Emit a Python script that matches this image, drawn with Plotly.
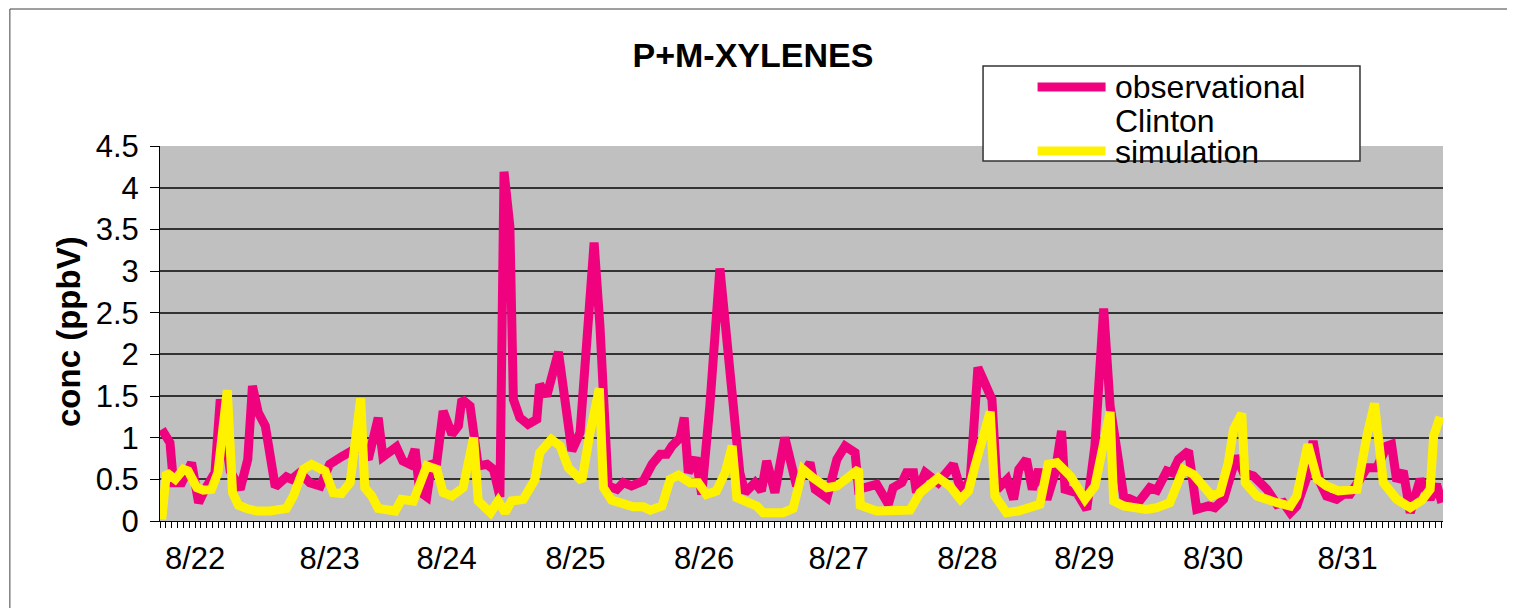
import plotly.graph_objects as go

# hours since start of record (one category per tick on the axis)
obs_hour = [0.3, 1.7, 2.3, 3.7, 5.4, 6.6, 7.7, 9.4, 10.3, 12.0, 13.7, 15.0, 15.8, 16.8, 18.0, 19.1, 19.7,
            21.6, 22.5, 23.9, 25.6, 27.4, 29.0, 31.0, 32.8, 34.2, 35.6, 37.3, 38.1, 40.4, 41.5, 42.7,
            43.6, 44.4, 45.6, 46.4, 47.3, 48.4, 49.9, 51.0, 51.6, 53.0, 54.4, 55.9, 57.0, 58.1, 58.8,
            59.8, 60.4, 61.5, 62.9, 64.4, 64.9, 66.1, 68.1, 69.2, 70.4, 71.8, 74.2, 75.2, 76.1, 76.6,
            78.1, 79.2, 80.6, 82.6, 84.1, 85.5, 86.6, 87.5, 88.9, 89.6, 90.3, 91.6, 92.6, 94.0, 95.7,
            96.9, 98.0, 99.1, 100.0, 101.7, 102.8, 103.7, 105.1, 106.8, 108.0, 108.8, 111.1, 112.0,
            114.0, 115.7, 117.1, 118.8, 119.4, 121.1, 122.5, 124.5, 125.3, 126.8, 127.6, 128.8, 129.3,
            130.8, 133.0, 135.6, 137.0, 138.5, 139.8, 140.7, 142.2, 143.1, 144.8, 145.9, 146.8, 148.1,
            149.1, 150.2, 151.6, 153.0, 154.1, 154.7, 156.7, 158.4, 159.8, 161.3, 162.4, 163.8, 164.7,
            167.2, 169.2, 170.4, 172.1, 173.0, 174.1, 175.8, 177.2, 179.2, 180.3, 181.8, 184.0, 185.2,
            186.9, 189.2, 190.9, 192.0, 193.2, 194.3, 196.3, 197.1, 198.3, 199.4, 201.1, 202.3, 203.4,
            205.1, 206.3, 208.0, 209.7, 210.5, 211.4, 212.5, 213.7, 215.4, 217.1, 218.2, 219.1]
obs_conc = [1.10, 0.94, 0.46, 0.46, 0.70, 0.22, 0.38, 0.58, 1.46, 0.60, 0.38, 0.74, 1.62, 1.30, 1.14, 0.58, 0.41,
            0.53, 0.50, 0.58, 0.46, 0.42, 0.68, 0.77, 0.86, 0.90, 0.74, 1.24, 0.77, 0.89, 0.72, 0.68,
            0.86, 0.35, 0.29, 0.68, 0.70, 1.32, 1.04, 1.14, 1.46, 1.38, 0.66, 0.68, 0.62, 0.29, 4.19,
            3.54, 1.46, 1.24, 1.16, 1.22, 1.64, 1.50, 2.03, 1.54, 0.84, 1.06, 3.34, 2.34, 1.18, 0.42,
            0.38, 0.46, 0.42, 0.48, 0.68, 0.80, 0.80, 0.90, 1.00, 1.24, 0.58, 0.76, 0.32, 1.40, 3.03,
            2.02, 1.38, 0.58, 0.34, 0.46, 0.36, 0.72, 0.34, 1.00, 0.58, 0.42, 0.70, 0.38,
            0.28, 0.74, 0.90, 0.82, 0.38, 0.42, 0.44, 0.20, 0.40, 0.46, 0.58, 0.58, 0.34,
            0.58, 0.46, 0.68, 0.34, 0.50, 1.84, 1.70, 1.46, 0.38, 0.50, 0.26, 0.62, 0.74,
            0.38, 0.62, 0.26, 0.58, 1.08, 0.38, 0.34, 0.14, 0.90, 2.55, 1.38, 0.74, 0.30,
            0.22, 0.40, 0.37, 0.60, 0.58, 0.74, 0.84, 0.14, 0.18, 0.16, 0.26, 0.78, 0.58,
            0.54, 0.38, 0.20, 0.22, 0.10, 0.18, 0.58, 0.96, 0.46, 0.30, 0.26, 0.32, 0.32,
            0.50, 0.64, 0.64, 0.90, 0.92, 0.48, 0.60, 0.10, 0.50, 0.26, 0.44, 0.22]

sim_hour = [0.3, 1.1, 2.6, 4.0, 4.8, 6.3, 7.4, 8.8, 9.9, 11.5, 12.4, 13.4, 14.8, 16.5, 18.8, 21.6, 22.8,
            24.5, 25.9, 28.2, 29.6, 31.0, 32.5, 34.3, 35.0, 36.2, 37.3, 40.2, 41.3, 43.3, 45.6, 47.3,
            48.4, 49.9, 51.8, 53.6, 54.4, 56.5, 57.8, 59.0, 60.1, 62.1, 64.1, 64.9, 66.9, 68.4, 69.8,
            72.1, 73.5, 75.1, 75.8, 77.2, 80.9, 82.6, 83.8, 85.8, 87.2, 88.6, 90.6, 92.0, 93.4, 95.1,
            96.6, 97.8, 98.6, 100.3, 102.0, 103.1, 106.5, 108.2, 109.9, 111.6, 114.0, 115.7, 119.4,
            119.7, 122.5, 128.2, 129.9, 133.0, 135.0, 136.8, 138.2, 139.3, 141.9, 142.7, 144.7, 146.7,
            150.4, 151.8, 153.3, 155.6, 158.1, 159.8, 160.9, 162.4, 163.0, 164.7, 168.6, 170.4, 172.6,
            174.9, 176.6, 179.8, 181.2, 182.6, 183.5, 184.9, 185.5, 187.5, 190.9, 193.2, 194.3, 196.2,
            197.8, 199.4, 201.4, 204.6, 206.3, 207.6, 209.1, 211.4, 213.7, 215.7, 217.1, 217.7, 218.8]
sim_conc = [0.02, 0.58, 0.50, 0.62, 0.60, 0.40, 0.37, 0.38, 0.58, 1.57, 0.34, 0.19, 0.15, 0.12, 0.12, 0.15, 0.30,
            0.62, 0.68, 0.60, 0.34, 0.33, 0.46, 1.47, 0.40, 0.30, 0.15, 0.12, 0.26, 0.24, 0.66, 0.62,
            0.34, 0.30, 0.40, 1.00, 0.24, 0.10, 0.24, 0.10, 0.24, 0.26, 0.50, 0.82, 0.98, 0.90, 0.64,
            0.48, 1.06, 1.59, 0.40, 0.25, 0.17, 0.17, 0.13, 0.18, 0.50, 0.55, 0.46, 0.46, 0.32, 0.36,
            0.58, 0.90, 0.28, 0.22, 0.18, 0.10, 0.10, 0.15, 0.62, 0.52, 0.40, 0.42, 0.62,
            0.19, 0.12, 0.13, 0.34, 0.52, 0.42, 0.26, 0.36, 0.66, 1.31, 0.30, 0.10, 0.12,
            0.20, 0.68, 0.70, 0.54, 0.26, 0.42, 0.86, 1.31, 0.24, 0.18, 0.14, 0.16, 0.22,
            0.62, 0.56, 0.30, 0.34, 0.70, 1.10, 1.29, 0.46, 0.30, 0.22, 0.18, 0.30, 0.92,
            0.50, 0.42, 0.36, 0.38, 1.02, 1.41, 0.46, 0.26, 0.16, 0.25, 0.38, 1.02, 1.25]

day_ticks = [6, 29, 49, 71, 93, 116, 138, 158, 180, 203]
day_labels = ["8/22", "8/23", "8/24", "8/25", "8/26", "8/27", "8/28", "8/29", "8/30", "8/31"]

FONT = "Liberation Sans, Arial, sans-serif"
PINK = "#F0027F"
YELLOW = "#FFF200"

fig = go.Figure()
fig.add_trace(go.Scatter(x=obs_hour, y=obs_conc, mode="lines", name="observational Clinton",
                         line=dict(color=PINK, width=9), showlegend=False))
fig.add_trace(go.Scatter(x=sim_hour, y=sim_conc, mode="lines", name="simulation",
                         line=dict(color=YELLOW, width=9), showlegend=False))

# page body adds 8px offset, margins compensate
fig.update_layout(
    width=1515, height=608,
    margin=dict(l=152, r=80, t=138, b=95),
    paper_bgcolor="white", plot_bgcolor="#C0C0C0",
    font=dict(family=FONT, size=31, color="black"),
    title=dict(text="<b>P+M-XYLENES</b>", font=dict(size=34), x=0.4917, xanchor="center",
               y=0.9227, yanchor="middle"),
)

fig.update_xaxes(range=[0, 219.3], tickvals=day_ticks, ticktext=day_labels, showgrid=False,
                 zeroline=False, showline=True, linecolor="black", linewidth=1,
                 ticks="outside", ticklen=6, tickcolor="black", ticklabelstandoff=4,
                 minor=dict(dtick=1, tick0=0, ticks="outside", ticklen=6, tickcolor="black", showgrid=False))
fig.update_yaxes(range=[0, 4.5], dtick=0.5, showgrid=True, gridcolor="#333333", gridwidth=2,
                 zeroline=False, showline=True, linecolor="black", linewidth=1,
                 ticks="outside", ticklen=9, tickcolor="black", ticklabelstandoff=5)

fig.add_annotation(text="<b>conc (ppbV)</b>", xref="paper", yref="paper", x=-0.0717, y=0.504,
                   xanchor="center", yanchor="middle", textangle=-90, showarrow=False,
                   font=dict(size=33))

# legend box drawn like the spreadsheet one (lines sit tight, text overflows the box a little)
fig.add_shape(type="rect", xref="paper", yref="paper", x0=0.6415, x1=0.9353, y0=0.96, y1=1.2133,
              line=dict(color="#333333", width=1.5), fillcolor="white", layer="above")
fig.add_shape(type="line", xref="paper", yref="paper", x0=0.684, x1=0.737, y0=1.1573, y1=1.1573,
              line=dict(color=PINK, width=9), layer="above")
fig.add_shape(type="line", xref="paper", yref="paper", x0=0.684, x1=0.737, y0=0.9867, y1=0.9867,
              line=dict(color=YELLOW, width=9), layer="above")
for txt, ypos in [("observational", 1.1573), ("Clinton", 1.0667), ("simulation", 0.984)]:
    fig.add_annotation(text=txt, xref="paper", yref="paper", x=0.7428, y=ypos, xanchor="left",
                       yanchor="middle", showarrow=False, font=dict(size=32))

# outer chart-area border
fig.add_shape(type="rect", xref="paper", yref="paper", x0=-0.117, x1=1.0538, y0=-0.26, y1=1.3653,
              line=dict(color="#404040", width=1), fillcolor="rgba(0,0,0,0)", layer="below")

fig.write_html("out.html")
